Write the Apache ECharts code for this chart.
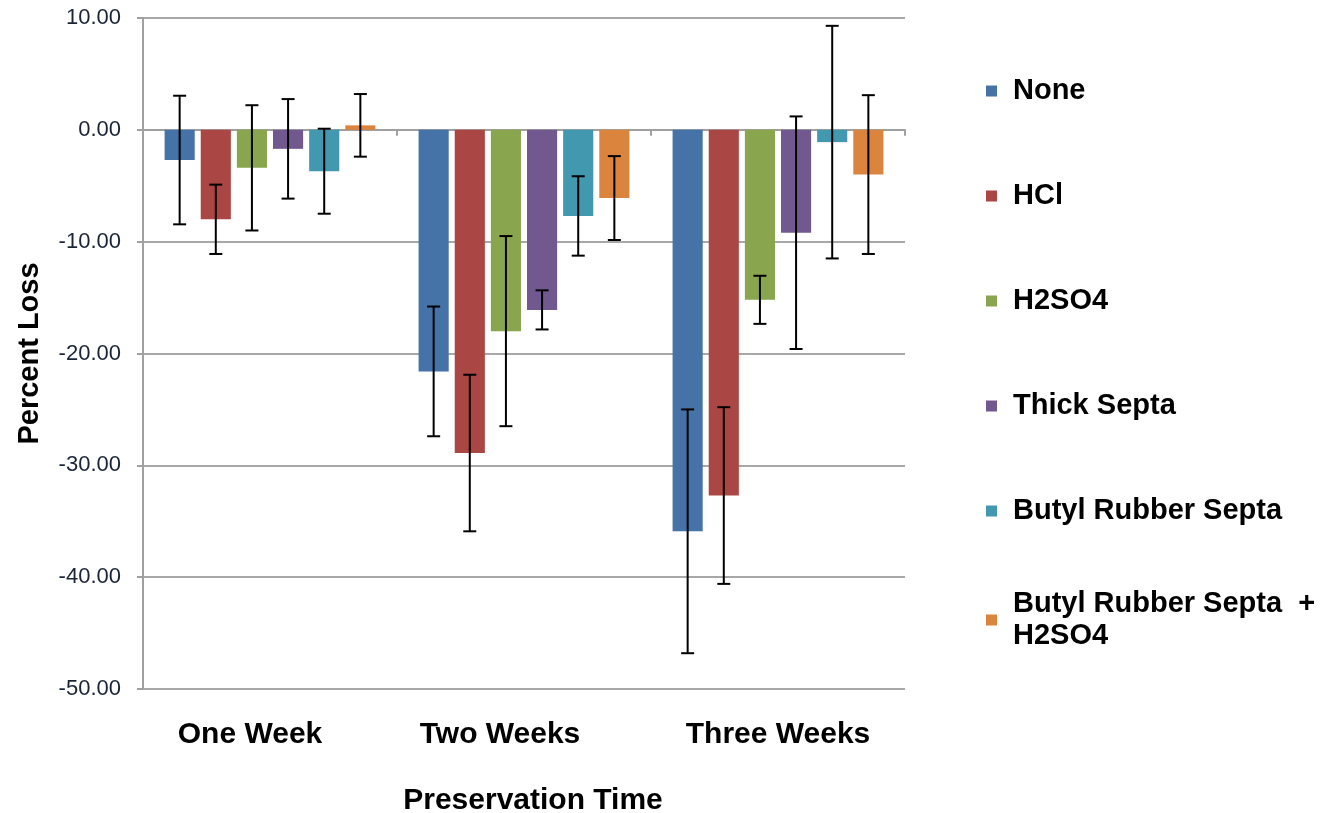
<!DOCTYPE html>
<html>
<head>
<meta charset="utf-8">
<script src="https://cdn.jsdelivr.net/npm/echarts@6/dist/echarts.min.js"></script>
<style>
html,body{margin:0;padding:0;background:#fff;}
#chart{width:1327px;height:813px;}
</style>
</head>
<body>
<div id="chart"></div>
<script>
const categories = ['One Week', 'Two Weeks', 'Three Weeks'];
const seriesNames = ['None', 'HCl', 'H2SO4', 'Thick Septa', 'Butyl Rubber Septa', 'Butyl Rubber Septa + H2SO4'];
const yTicks = [-50, -40, -30, -20, -10, 0, 10];

const noneVals = [-2.7, -21.6, -35.9];
const hclVals = [-8.0, -28.9, -32.7];
const h2so4Vals = [-3.4, -18.0, -15.2];
const thickVals = [-1.7, -16.1, -9.2];
const butylVals = [-3.7, -7.7, -1.1];
const butylH2so4Vals = [0.4, -6.1, -4.0];

const noneErr = [5.75, 5.8, 10.9];
const hclErr = [3.1, 7.0, 7.9];
const h2so4Err = [5.6, 8.5, 2.15];
const thickErr = [4.45, 1.75, 10.4];
const butylErr = [3.8, 3.55, 10.4];
const butylH2so4Err = [2.8, 3.75, 7.1];

const colors = ['#4572A7', '#AA4643', '#89A54E', '#71588F', '#4198AF', '#DB843D'];
const allVals = [noneVals, hclVals, h2so4Vals, thickVals, butylVals, butylH2so4Vals];
const allErr = [noneErr, hclErr, h2so4Err, thickErr, butylErr, butylH2so4Err];

const CAT_GAP = 0.17, BAR_GAP = 0.2;

const errData = [];
allVals.forEach((vals, si) => {
  vals.forEach((v, ci) => errData.push([ci, si, v, allErr[si][ci]]));
});

const bold = 'Liberation Sans';

const barSeries = seriesNames.map((name, i) => ({
  name: name,
  type: 'bar',
  data: allVals[i],
  itemStyle: { color: colors[i] },
  barGap: (BAR_GAP * 100) + '%',
  barCategoryGap: (CAT_GAP * 100) + '%',
  xAxisIndex: 0,
  yAxisIndex: 0
}));

const errSeries = {
  type: 'custom',
  xAxisIndex: 0,
  yAxisIndex: 0,
  z: 10,
  silent: true,
  encode: { x: 0, y: 2 },
  data: errData,
  renderItem: function (params, api) {
    const ci = api.value(0), si = api.value(1), v = api.value(2), e = api.value(3);
    const band = api.size([1, 0])[0];
    const n = seriesNames.length;
    const avail = band * (1 - CAT_GAP);
    const bw = avail / (n + (n - 1) * BAR_GAP);
    const x = api.coord([ci, 0])[0] - avail / 2 + bw / 2 + si * bw * (1 + BAR_GAP);
    const yT = api.coord([ci, v + e])[1];
    const yB = api.coord([ci, v - e])[1];
    const st = { stroke: '#000', lineWidth: 2 };
    return {
      type: 'group',
      children: [
        { type: 'line', shape: { x1: x, y1: yT, x2: x, y2: yB }, style: st },
        { type: 'line', shape: { x1: x - 6.5, y1: yT, x2: x + 6.5, y2: yT }, style: st },
        { type: 'line', shape: { x1: x - 6.5, y1: yB, x2: x + 6.5, y2: yB }, style: st }
      ]
    };
  }
};

const legendText = { fontFamily: bold, fontWeight: 'bold', fontSize: 29, color: '#000', lineHeight: 32, padding: [0, 0, 0, 11] };

// horizontal nudges of the category labels (styling only)
const labelShift = { 0: 40, 1: 48, 2: 0 };

const option = {
  animation: false,
  backgroundColor: '#fff',
  grid: { left: 143, right: 422, top: 18, bottom: 124, containLabel: false, outerBoundsMode: 'none' },
  legend: [
    {
      data: seriesNames.slice(0, 5),
      orient: 'vertical',
      left: 986,
      top: 75,
      padding: 0,
      itemWidth: 11,
      itemHeight: 11,
      itemGap: 73,
      icon: 'rect',
      textStyle: legendText
    },
    {
      data: seriesNames.slice(5),
      orient: 'vertical',
      left: 986,
      top: 588,
      padding: 0,
      itemWidth: 11,
      itemHeight: 11,
      icon: 'rect',
      formatter: function () { return 'Butyl Rubber Septa  +\nH2SO4'; },
      textStyle: legendText
    }
  ],
  xAxis: [
    {
      type: 'category',
      data: categories,
      axisLine: { onZero: true, lineStyle: { color: '#A0A0A0', width: 2 } },
      axisTick: { show: true, length: 6, lineStyle: { color: '#A0A0A0', width: 2 } },
      axisLabel: { show: false },
      splitLine: { show: false }
    },
    {
      type: 'category',
      data: categories,
      position: 'bottom',
      axisLine: { show: false, onZero: false },
      axisTick: { show: false },
      axisLabel: {
        margin: 31,
        formatter: function (v, i) { return '{s' + i + '|' + v + '}'; },
        rich: {
          s0: { fontFamily: bold, fontWeight: 'bold', fontSize: 30, color: '#000', padding: [0, labelShift[0], 0, 0] },
          s1: { fontFamily: bold, fontWeight: 'bold', fontSize: 30, color: '#000', padding: [0, labelShift[1], 0, 0] },
          s2: { fontFamily: bold, fontWeight: 'bold', fontSize: 30, color: '#000', padding: [0, labelShift[2], 0, 0] }
        }
      },
      name: 'Preservation Time',
      nameLocation: 'middle',
      nameGap: 97,
      nameTextStyle: { fontFamily: bold, fontWeight: 'bold', fontSize: 30, color: '#000', padding: [0, 0, 0, 18] }
    }
  ],
  yAxis: {
    type: 'value',
    min: yTicks[0],
    max: yTicks[yTicks.length - 1],
    interval: 10,
    axisLine: { show: true, lineStyle: { color: '#A0A0A0', width: 2 } },
    axisTick: { show: true, length: 6, lineStyle: { color: '#A0A0A0', width: 2 } },
    splitLine: { show: true, lineStyle: { color: '#A8A8A8', width: 2 } },
    axisLabel: {
      margin: 22,
      fontFamily: 'Liberation Sans',
      fontSize: 22,
      color: '#1a2436',
      formatter: function (v) { return v.toFixed(2); }
    },
    name: 'Percent Loss',
    nameLocation: 'middle',
    nameGap: 99,
    nameRotate: 90,
    nameTextStyle: { fontFamily: bold, fontWeight: 'bold', fontSize: 29, color: '#000' }
  },
  series: barSeries.concat([errSeries])
};

const chart = echarts.init(document.getElementById('chart'), null, { renderer: 'canvas' });
chart.setOption(option);
</script>
</body>
</html>
